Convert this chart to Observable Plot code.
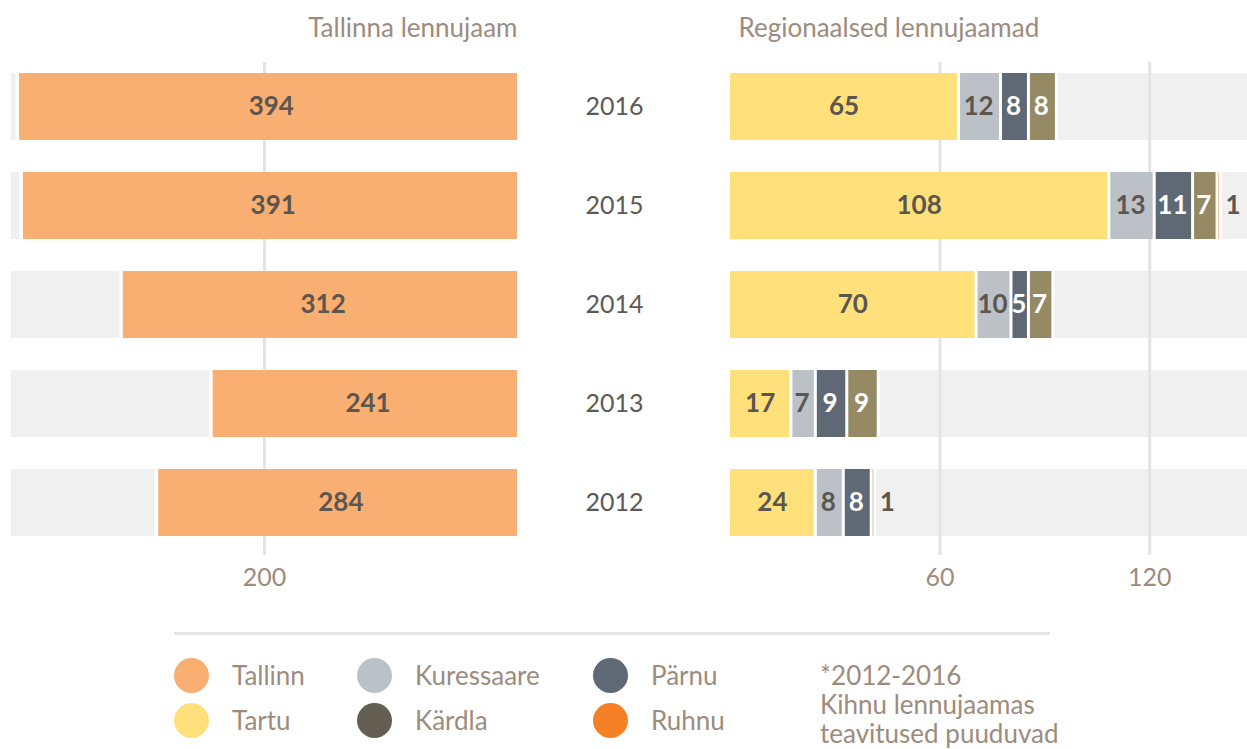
<!DOCTYPE html>
<html><head><meta charset="utf-8">
<script src="https://cdn.jsdelivr.net/npm/d3@7"></script>
<script src="https://cdn.jsdelivr.net/npm/@observablehq/plot@0.6"></script>
<style>
html,body{margin:0;padding:0;background:#fff;}
#chart{position:relative;width:1247px;height:749px;overflow:hidden;font-family:Lato,sans-serif;}
#left{position:absolute;left:0;top:0;}
#right{position:absolute;left:560px;top:0;}
.rule{position:absolute;left:174px;top:632px;width:876px;height:3px;background:#e6e6e6;}
.item{position:absolute;display:flex;align-items:center;height:35px;font-size:26px;color:#9d8c7d;white-space:nowrap;}
.sw{width:35px;height:35px;border-radius:50%;margin-right:23px;flex:none;}
.note{position:absolute;left:820px;top:661px;font-size:26px;line-height:29px;color:#9d8c7d;white-space:nowrap;}
</style></head><body>
<div id="chart"><div id="left"></div><div id="right"></div><div id="legend"></div></div>
<script>
// ---- data ----
const years = ["2016", "2015", "2014", "2013", "2012"];
const tallinn = [394, 391, 312, 241, 284];
const regions = ["Tartu", "Kuressaare", "Pärnu", "Kärdla", "Ruhnu"];
const tartu = [65, 108, 70, 17, 24];
const kuressaare = [12, 13, 10, 7, 8];
const parnu = [8, 11, 5, 9, 8];
const kardla = [8, 7, 7, 9, 1];
const ruhnu = [0, 1, 0, 0, 0];
const leftTicks = [200];
const rightTicks = [60, 120];
const leftMax = 400;
const rightMax = 148;
const titles = ["Tallinna lennujaam", "Regionaalsed lennujaamad"];
const legendNames = ["Tallinn", "Tartu", "Kuressaare", "Kärdla", "Pärnu", "Ruhnu"];
const footnote = ["*2012-2016", "Kihnu lennujaamas", "teavitused puuduvad"];

// ---- styles ----
const barColors = ["#ffe07a", "#bcc1c8", "#5f6875", "#958a63", "#f58025"];
const legendColors = ["#f9ae72", "#ffe07a", "#bcc1c8", "#635f52", "#5f6875", "#f58025"];
const tallinnColor = "#f9ae72";
const bgGrey = "#f0f0f0";
const gridColor = "#e4e4e7";
const valueColor = "#5b5650";
const labelColor = "#9d8c7d";
const whiteText = ["Pärnu", "Kärdla"];

const H = 600;
const yOpts = {domain: years, paddingInner: 0.325, paddingOuter: 0.146, align: 0.38, axis: null};
const common = {height: H, marginTop: 62, marginBottom: 45,
  style: {fontFamily: "Lato, sans-serif", fontSize: "25px", color: labelColor, background: "transparent", overflow: "visible"}};

const leftData = years.map((y, i) => ({year: y, value: tallinn[i]}));
const series = [tartu, kuressaare, parnu, kardla, ruhnu];
const regData = [];
years.forEach((y, i) => regions.forEach((r, j) => {
  const v = series[j][i];
  if (v > 0) regData.push({year: y, region: r, value: v});
}));

const left = Plot.plot({
  ...common,
  width: 560, marginLeft: 11, marginRight: 43,
  x: {domain: [0, leftMax], reverse: true, axis: null},
  y: yOpts,
  marks: [
    Plot.barX(years, {x1: 0, x2: leftMax, y: d => d, fill: bgGrey}),
    Plot.ruleX(leftTicks, {stroke: gridColor, strokeWidth: 3}),
    Plot.barX(leftData, {x: "value", y: "year", fill: "white", insetLeft: -3}),
    Plot.barX(leftData, {x: "value", y: "year", fill: tallinnColor, insetLeft: 0.5}),
    Plot.text(leftData, Plot.stackX({x: "value", y: "year", text: "value", fill: valueColor, fontSize: 26, fontWeight: "bold", dx: 3})),
    Plot.axisX({ticks: leftTicks, tickSize: 0, tickPadding: 13, label: null, fontSize: 25}),
    Plot.text([titles[0]], {frameAnchor: "top-right", textAnchor: "end", lineAnchor: "middle", dy: -34, fontSize: 26, fill: labelColor})
  ]
});

const txt = {x: "value", y: "year", z: "region", text: "value", fontSize: 26, fontWeight: "bold"};
const right = Plot.plot({
  ...common,
  width: 687, marginLeft: 170, marginRight: 0,
  x: {domain: [0, rightMax], axis: null},
  y: yOpts,
  color: {domain: regions, range: barColors},
  marks: [
    Plot.barX(years, {x1: 0, x2: rightMax, y: d => d, fill: bgGrey}),
    Plot.ruleX(rightTicks, {stroke: gridColor, strokeWidth: 3}),
    Plot.barX(regData, Plot.stackX({x: "value", y: "year", fill: "white", insetRight: -3})),
    Plot.barX(regData, Plot.filter(d => d.region === regions[0], Plot.stackX({x: "value", y: "year", z: "region", fill: "region"}))),
    Plot.barX(regData, Plot.filter(d => d.region !== regions[0], Plot.stackX({x: "value", y: "year", z: "region", fill: "region", insetLeft: 3}))),
    Plot.text(regData, Plot.filter(d => d.value > 2 && !whiteText.includes(d.region), Plot.stackX({...txt, fill: valueColor}))),
    Plot.text(regData, Plot.filter(d => d.value > 2 && whiteText.includes(d.region), Plot.stackX({...txt, fill: "white"}))),
    Plot.text(regData, Plot.filter(d => d.value <= 2, Plot.stackX2({...txt, fill: valueColor, textAnchor: "start", dx: 6}))),
    Plot.text(years, {y: d => d, text: d => d, frameAnchor: "left", textAnchor: "end", dx: -87, fontSize: 25, fill: "#5d5955"}),
    Plot.axisX({ticks: rightTicks, tickSize: 0, tickPadding: 13, label: null, fontSize: 25}),
    Plot.text([titles[1]], {frameAnchor: "top-left", textAnchor: "start", lineAnchor: "middle", dx: 8, dy: -34, fontSize: 26, fill: labelColor})
  ]
});

document.getElementById("left").appendChild(left);
document.getElementById("right").appendChild(right);

// ---- legend ----
const lg = d3.select("#legend");
lg.append("div").attr("class", "rule");
const colX = [174, 357, 593];
const rowY = [675, 720];
legendNames.forEach((name, k) => {
  const it = lg.append("div").attr("class", "item")
    .style("left", colX[Math.floor(k / 2)] + "px")
    .style("top", (rowY[k % 2] - 17.5) + "px");
  it.append("div").attr("class", "sw").style("background", legendColors[k]);
  it.append("span").text(name);
});
const note = lg.append("div").attr("class", "note");
footnote.forEach(t => note.append("div").text(t));
</script>
</body></html>
